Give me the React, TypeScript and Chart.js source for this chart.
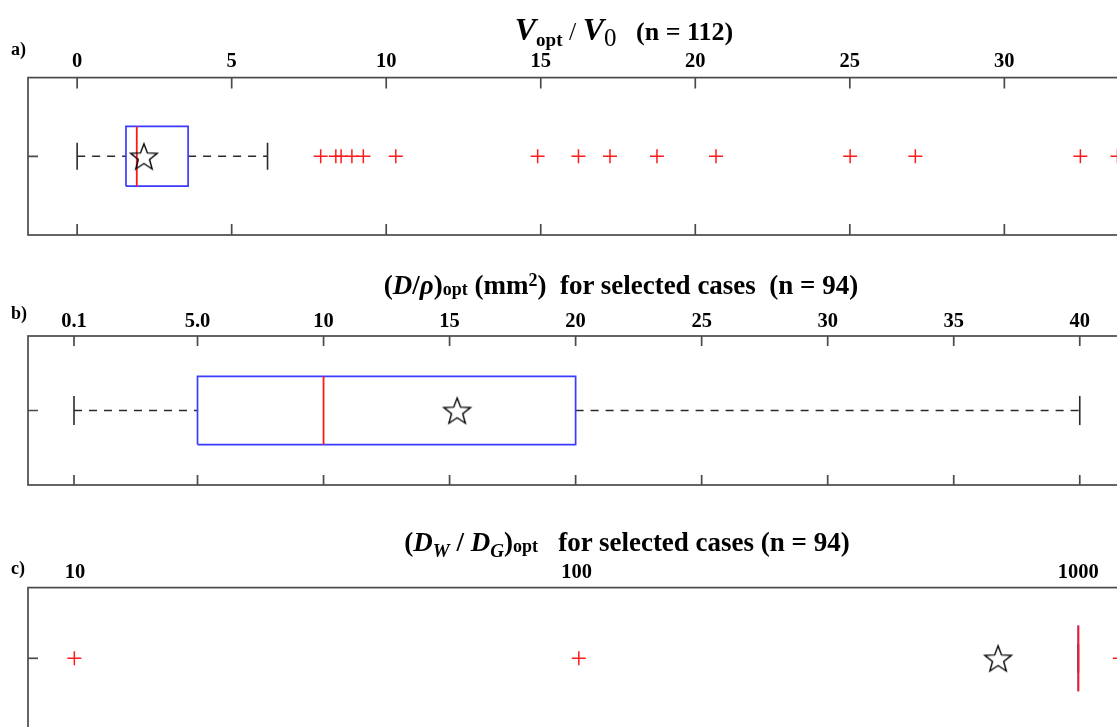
import React, { useEffect, useRef } from "react";
import { Chart, registerables } from "chart.js";

Chart.register(...registerables);

// ---------- Panel a: V_opt / V_0 (n = 112) ----------
const aTickValues = [0, 5, 10, 15, 20, 25, 30, 35];
const aTickLabels = ["0", "5", "10", "15", "20", "25", "30", "35"];
// [lower whisker, Q1, median, Q3, upper whisker]
const aBox = [0, 1.58, 1.93, 3.59, 6.16];
const aMean = [2.16];
const aOutliers = [7.88, 8.37, 8.54, 8.89, 9.26, 10.31, 14.9, 16.22, 17.24, 18.76, 20.67, 25.01, 27.12, 32.46, 33.66];

// ---------- Panel b: (D/rho)_opt (mm^2), n = 94 ----------
const bTickValues = [0.1, 5, 10, 15, 20, 25, 30, 35, 40];
const bTickLabels = ["0.1", "5.0", "10", "15", "20", "25", "30", "35", "40"];
const bBox = [0.1, 5.0, 10.0, 20.0, 40.0];
const bMean = [15.3];
const bOutliers: number[] = [];

// ---------- Panel c: (D_W / D_G)_opt, n = 94 ----------
const cTickValues = [10, 100, 1000];
const cTickLabels = ["10", "100", "1000"];
const cBox = [1000, 1000, 1000, 1000, 1000];
const cMean = [692];
const cOutliers = [9.97, 101, 1210];

const FONT = '"Liberation Serif", "Times New Roman", serif';
const RED = "#ff1a1a";
const BLUE = "#3b3bff";
const WHISKER = "#2a2a2a";
const FRAME = "#4a4a4a";
const TICK_FONT_SIZE = 20.5;

interface PanelCfg {
  key: string;
  top: number;
  height: number;
  scaleType: "linear" | "logarithmic";
  min: number;
  max: number;
  tickValues: number[];
  tickLabels: string[];
  box: number[];
  mean: number[];
  outliers: number[];
  padTop: number;
  padBottom: number;
  tickPad: number;
  tickLen: number;
  boxHalf: number;
  capHalf: number;
}

const CANVAS_W = 1250;

const panels: PanelCfg[] = [
  {
    key: "a", top: 0, height: 250, scaleType: "linear", min: -1.59, max: 36.33,
    tickValues: aTickValues, tickLabels: aTickLabels, box: aBox, mean: aMean, outliers: aOutliers,
    padTop: 45, padBottom: 14, tickPad: 4, tickLen: 11, boxHalf: 0.38, capHalf: 0.172,
  },
  {
    key: "b", top: 250, height: 250, scaleType: "linear", min: -1.725, max: 44.77,
    tickValues: bTickValues, tickLabels: bTickLabels, box: bBox, mean: bMean, outliers: bOutliers,
    padTop: 57, padBottom: 11, tickPad: 2.2, tickLen: 10, boxHalf: 0.457, capHalf: 0.196,
  },
  {
    key: "c", top: 500, height: 250, scaleType: "logarithmic", min: 8.06, max: 1748,
    tickValues: cTickValues, tickLabels: cTickLabels, box: cBox, mean: cMean, outliers: cOutliers,
    padTop: 57, padBottom: 21, tickPad: 3, tickLen: 0, boxHalf: 0.465, capHalf: 0.2,
  },
];

function makeStar(outer: number): HTMLCanvasElement {
  const size = Math.ceil(outer * 2 + 4);
  const c = document.createElement("canvas");
  c.width = size;
  c.height = size;
  const ctx = c.getContext("2d")!;
  const cx = size / 2;
  const cy = size / 2 + outer * 0.1;
  const inner = outer * 0.42;
  ctx.beginPath();
  for (let i = 0; i < 10; i++) {
    const r = i % 2 === 0 ? outer : inner;
    const ang = -Math.PI / 2 + (i * Math.PI) / 5;
    const px = cx + r * Math.cos(ang);
    const py = cy + r * Math.sin(ang);
    if (i === 0) ctx.moveTo(px, py);
    else ctx.lineTo(px, py);
  }
  ctx.closePath();
  ctx.lineJoin = "miter";
  ctx.strokeStyle = "#000";
  ctx.lineWidth = 1.4;
  ctx.stroke();
  return c;
}

function Panel({ cfg }: { cfg: PanelCfg }) {
  const ref = useRef<HTMLCanvasElement>(null);
  useEffect(() => {
    const canvas = ref.current!;
    const [wMin, q1, med, q3, wMax] = cfg.box;
    const h = cfg.boxHalf;
    const cap = cfg.capHalf;
    const star = makeStar(14);
    const line = (pts: { x: number; y: number }[], color: string, width: number, dash: number[] = []) => ({
      data: pts,
      showLine: true,
      borderColor: color,
      backgroundColor: color,
      borderWidth: width,
      borderDash: dash,
      borderJoinStyle: "miter",
      pointRadius: 0,
      fill: false,
      tension: 0,
    });
    const datasets: any[] = [
      { data: cfg.mean.map((v) => ({ x: v, y: 0 })), pointStyle: star, pointRadius: 14, showLine: false },
      { data: cfg.outliers.map((v) => ({ x: v, y: 0 })), pointStyle: "cross", pointRadius: 7, borderColor: RED, backgroundColor: RED, borderWidth: 1.5, showLine: false },
      line([{ x: med, y: -h }, { x: med, y: h }], RED, 1.8),
      line([{ x: q1, y: -h }, { x: q3, y: -h }, { x: q3, y: h }, { x: q1, y: h }, { x: q1, y: -h }], BLUE, 1.7),
      line([{ x: wMin, y: -cap }, { x: wMin, y: cap }], WHISKER, 1.6),
      line([{ x: wMax, y: -cap }, { x: wMax, y: cap }], WHISKER, 1.6),
      line([{ x: wMin, y: 0 }, { x: q1, y: 0 }], WHISKER, 1.4, [8, 7]),
      line([{ x: q3, y: 0 }, { x: wMax, y: 0 }], WHISKER, 1.4, [8, 7]),
    ];
    const framePlugin = {
      id: "frame" + cfg.key,
      afterDraw(chart: any) {
        const { ctx, chartArea: a, scales } = chart;
        ctx.save();
        ctx.strokeStyle = FRAME;
        ctx.lineWidth = 1.7;
        ctx.strokeRect(a.left, a.top, a.right - a.left, a.bottom - a.top);
        ctx.beginPath();
        const yMid = scales.y.getPixelForValue(0);
        ctx.moveTo(a.left, yMid);
        ctx.lineTo(a.left + 10, yMid);
        if (cfg.tickLen > 0) {
          for (const t of scales.x.ticks) {
            const px = scales.x.getPixelForValue(t.value);
            ctx.moveTo(px, a.top);
            ctx.lineTo(px, a.top + cfg.tickLen);
            ctx.moveTo(px, a.bottom);
            ctx.lineTo(px, a.bottom - cfg.tickLen);
          }
        }
        ctx.stroke();
        ctx.restore();
      },
    };
    const chart = new Chart(canvas, {
      type: "scatter",
      data: { datasets },
      options: {
        responsive: false,
        animation: false,
        events: [],
        layout: { padding: { left: 28, right: 50, top: cfg.padTop, bottom: cfg.padBottom } },
        plugins: { legend: { display: false }, tooltip: { enabled: false }, title: { display: false } },
        scales: {
          x: {
            type: cfg.scaleType,
            position: "top",
            min: cfg.min,
            max: cfg.max,
            afterBuildTicks: (s: any) => {
              s.ticks = cfg.tickValues.map((v) => ({ value: v }));
            },
            ticks: {
              callback: (_v: any, i: number) => cfg.tickLabels[i],
              font: { family: FONT, size: TICK_FONT_SIZE, weight: "bold" },
              color: "#000",
              padding: cfg.tickPad,
              maxRotation: 0,
              autoSkip: false,
            },
            grid: { display: false, drawTicks: false },
            border: { display: false },
          },
          y: { display: false, min: -1, max: 1 },
        },
      } as any,
      plugins: [framePlugin],
    });
    return () => chart.destroy();
  }, [cfg]);
  return (
    <canvas
      ref={ref}
      width={CANVAS_W}
      height={cfg.height}
      style={{ position: "absolute", left: 0, top: cfg.top, width: CANVAS_W, height: cfg.height }}
    />
  );
}

const titleStyle = (cx: number, cy: number, size: number): React.CSSProperties => ({
  position: "absolute",
  left: cx,
  top: cy,
  transform: "translate(-50%, -50%)",
  fontFamily: FONT,
  fontWeight: "bold",
  fontSize: size,
  whiteSpace: "nowrap",
  lineHeight: 1,
  color: "#000",
});

const labelStyle = (y: number): React.CSSProperties => ({
  position: "absolute",
  left: 11,
  top: y,
  fontFamily: FONT,
  fontWeight: "bold",
  fontSize: 18,
  lineHeight: 1,
  color: "#000",
});

const sub = (size: number, drop: string): React.CSSProperties => ({ fontSize: size, position: "relative", top: drop });

export default function App() {
  return (
    <div style={{ position: "fixed", left: 0, top: 0, width: 1117, height: 727, overflow: "hidden", background: "#fff" }}>
      {panels.map((p) => (
        <Panel key={p.key} cfg={p} />
      ))}
      <div style={titleStyle(624, 29, 26)}>
        <i style={{ fontSize: 32 }}>V</i>
        <span style={sub(19, "0.3em")}>opt</span>
        <span style={{ fontWeight: "normal" }}> / </span>
        <i style={{ fontSize: 32 }}>V</i>
        <span style={{ ...sub(25, "0.25em"), fontWeight: "normal" }}>0</span>
        <span>&nbsp;&nbsp;&nbsp;(n = 112)</span>
      </div>
      <div style={labelStyle(40)}>a)</div>

      <div style={titleStyle(621, 285, 27)}>
        (<i>D</i>/<i>ρ</i>)<span style={sub(18, "0.05em")}>opt</span> (mm<sup style={{ fontSize: 18, verticalAlign: "0.45em" }}>2</sup>)&nbsp;&nbsp;for selected cases&nbsp;&nbsp;(n = 94)
      </div>
      <div style={labelStyle(304)}>b)</div>

      <div style={titleStyle(627, 542, 27)}>
        (<i>D</i><i style={sub(19, "0.3em")}>W</i> / <i>D</i><i style={sub(19, "0.3em")}>G</i>)<span style={sub(18, "0.05em")}>opt</span>&nbsp;&nbsp;&nbsp;for selected cases (n = 94)
      </div>
      <div style={labelStyle(559)}>c)</div>
    </div>
  );
}
